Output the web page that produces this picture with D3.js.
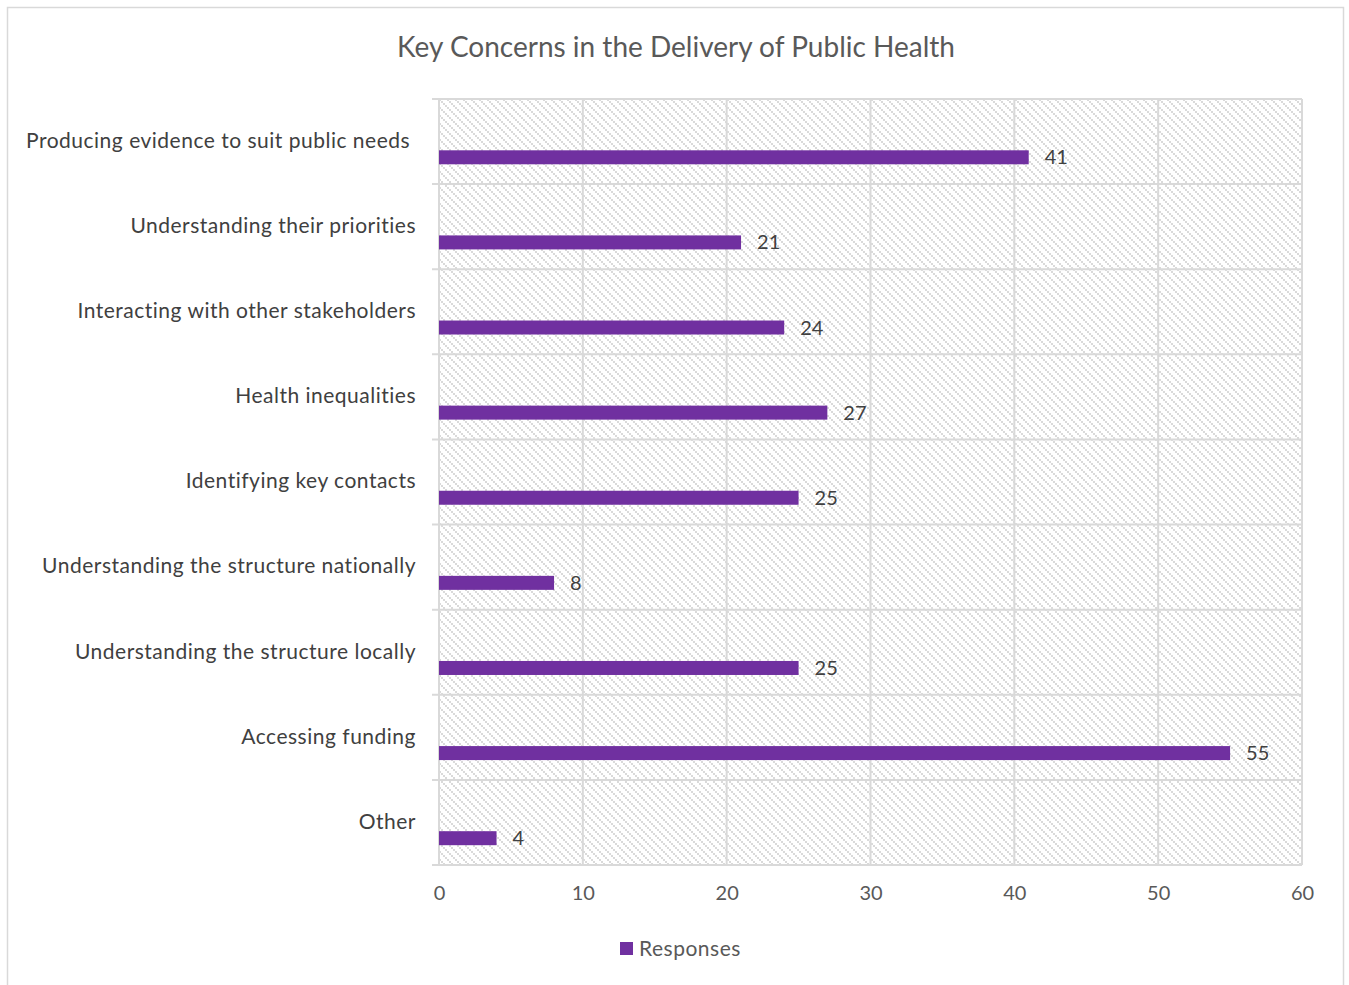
<!DOCTYPE html>
<meta charset="utf-8">
<style>
body { margin: 0; background: #fff; }
text { font-family: Lato, "Open Sans", sans-serif; fill: #404040; }
.axis path, .axis line { display: none; }
.cat { white-space: pre; }
</style>
<svg width="1349" height="985"></svg>
<script src="https://d3js.org/d3.v7.min.js"></script>
<script>

var categories = ["Producing evidence to suit public needs ", "Understanding their priorities",
  "Interacting with other stakeholders", "Health inequalities", "Identifying key contacts",
  "Understanding the structure nationally", "Understanding the structure locally",
  "Accessing funding", "Other"];
var responses = [41, 21, 24, 27, 25, 8, 25, 55, 4];
var xTicks = [0, 10, 20, 30, 40, 50, 60];

var svg = d3.select("svg"),
    margin = {top: 99, left: 439},
    width = 1302 - margin.left,
    height = 865 - margin.top;

var purple = "#7030a0", grid = "#d9d9d9";

// outer frame
svg.append("rect")
    .attr("x", 7.5).attr("y", 7.5)
    .attr("width", 1336).attr("height", 985)
    .attr("fill", "#fff").attr("stroke", grid).attr("stroke-width", 1.5);

// hatch pattern (pixel diagonal dashes, "\" direction)
var defs = svg.append("defs");
var pat = defs.append("pattern")
    .attr("id", "hatch")
    .attr("patternUnits", "userSpaceOnUse")
    .attr("width", 8).attr("height", 8);
[0, 2, 4, 6].forEach(function(p) {
  pat.append("rect")
      .attr("x", p).attr("y", p)
      .attr("width", 2).attr("height", 2)
      .attr("fill", "#dadada");
});

svg.append("text")
    .attr("x", 676).attr("y", 57)
    .attr("text-anchor", "middle")
    .style("font-size", "28px")
    .style("fill", "#595959")
    .text("Key Concerns in the Delivery of Public Health");

var g = svg.append("g")
    .attr("transform", "translate(" + margin.left + "," + margin.top + ")");

var x = d3.scaleLinear().domain([0, 60]).range([0, width]);
var y = d3.scaleBand().domain(categories).range([0, height]);

g.append("rect")
    .attr("width", width).attr("height", height)
    .attr("fill", "url(#hatch)");

// vertical gridlines
g.selectAll(".vgrid")
  .data(xTicks)
  .enter().append("line")
    .attr("x1", function(d) { return x(d); })
    .attr("x2", function(d) { return x(d); })
    .attr("y1", 0).attr("y2", height)
    .attr("stroke", grid).attr("stroke-width", 2);

// horizontal gridlines at band edges, with small ticks to the left
var edges = categories.map(function(d) { return y(d); }).concat([height]);
g.selectAll(".hgrid")
  .data(edges)
  .enter().append("line")
    .attr("x1", -7).attr("x2", width)
    .attr("y1", function(d) { return d; })
    .attr("y2", function(d) { return d; })
    .attr("stroke", grid).attr("stroke-width", 2);

var barH = 14;
var bw = y.bandwidth();

g.selectAll(".bar")
  .data(responses)
  .enter().append("rect")
    .attr("x", 0)
    .attr("y", function(d, i) { return y(categories[i]) + bw * 0.685 - barH / 2; })
    .attr("width", function(d) { return x(d); })
    .attr("height", barH)
    .attr("fill", purple);

g.selectAll(".val")
  .data(responses)
  .enter().append("text")
    .attr("x", function(d) { return x(d) + 16; })
    .attr("y", function(d, i) { return y(categories[i]) + bw * 0.685; })
    .attr("dy", "0.35em")
    .style("font-size", "20px")
    .text(function(d) { return d; });

g.selectAll(".cat")
  .data(categories)
  .enter().append("text")
    .attr("class", "cat")
    .attr("x", -23)
    .attr("y", function(d) { return y(d) + bw / 2 - 1; })
    .attr("dy", "0.35em")
    .attr("text-anchor", "end")
    .style("font-size", "21px")
    .style("letter-spacing", "0.5px")
    .text(function(d) { return d; });

g.append("g")
    .attr("class", "axis")
    .attr("transform", "translate(0," + height + ")")
    .call(d3.axisBottom(x).tickValues(xTicks).tickSize(0).tickPadding(21))
  .selectAll("text")
    .style("font-size", "20px")
    .style("fill", "#595959")
    .style("font-family", "Lato, sans-serif");

// legend
var leg = svg.append("g").attr("transform", "translate(620,942)");
leg.append("rect").attr("width", 13).attr("height", 13).attr("fill", purple);
leg.append("text")
    .attr("x", 19).attr("y", 7).attr("dy", "0.35em")
    .style("font-size", "21px")
    .style("letter-spacing", "0.5px")
    .style("fill", "#595959")
    .text("Responses");

</script>
